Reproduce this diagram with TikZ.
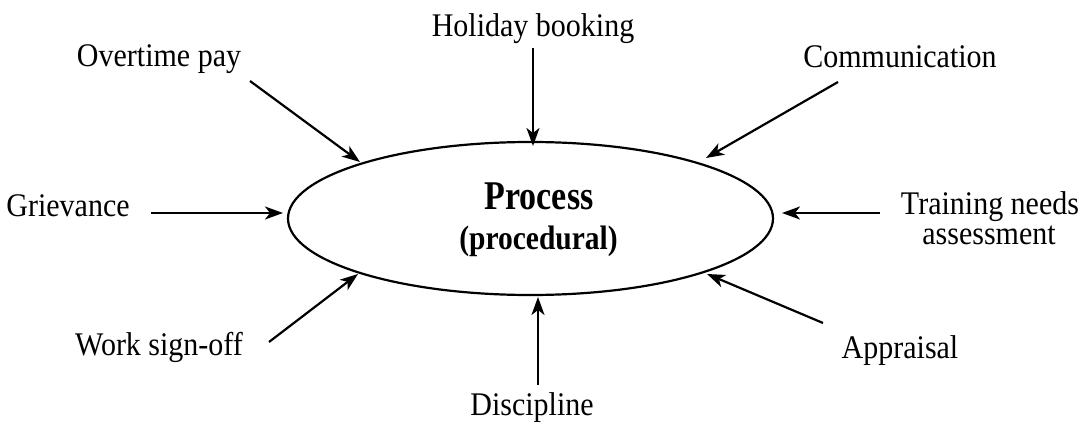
\documentclass[tikz,border=0pt]{standalone}
\usepackage{fontspec}
\setmainfont{Liberation Serif}
\usetikzlibrary{shapes.geometric,arrows.meta}
\begin{document}
\begin{tikzpicture}[x=1pt,y=-1pt,
  lbl/.style={anchor=base,inner sep=0pt,font=\fontsize{30}{30}\selectfont,yscale=1.1,transform shape},
  conn/.style={line width=2.2pt,-{Stealth[length=18pt,width=13pt,inset=5pt]}},
  oval/.style={ellipse,draw,line width=2.2pt,minimum width=485pt,minimum height=153pt,inner sep=0pt}]
\useasboundingbox (0,0) rectangle (1086,430);
\node[oval] (proc) at (530.5,218.5) {};
\node[anchor=base,inner sep=0pt,font=\fontsize{34}{40}\selectfont\bfseries,yscale=1.2,transform shape] (t1) at (539,210) {Process};
\node[anchor=base,inner sep=0pt,font=\fontsize{29.5}{34}\selectfont\bfseries,yscale=1.15,transform shape] (t2) at (538.5,250) {(procedural)};
\node[lbl] (ot) at (159,67) {Overtime pay};
\node[lbl] (hb) at (533,37) {Holiday booking};
\node[lbl] (cm) at (900,68) {Communication};
\node[lbl] (gr) at (68,217) {Grievance};
\node[lbl] (tn1) at (990,215) {Training needs};
\node[lbl] (tn2) at (989,245) {assessment};
\node[lbl] (ws) at (159,355) {Work sign-off};
\node[lbl] (di) at (532,415) {Discipline};
\node[lbl] (ap) at (900,358) {Appraisal};
\coordinate (a1) at (250,81);  \coordinate (b1) at (360,162);
\coordinate (a2) at (533,48);  \coordinate (b2) at (533,146);
\coordinate (a3) at (838,82);  \coordinate (b3) at (706,158);
\coordinate (a4) at (151,213); \coordinate (b4) at (283,213);
\coordinate (a5) at (880,213); \coordinate (b5) at (782,213);
\coordinate (a6) at (269,342); \coordinate (b6) at (358,274);
\coordinate (a7) at (538,385); \coordinate (b7) at (538,297);
\coordinate (a8) at (823,323); \coordinate (b8) at (707,274);
\foreach \i in {1,...,8} { \draw[conn] (a\i) -- (b\i); }
\end{tikzpicture}
\end{document}
